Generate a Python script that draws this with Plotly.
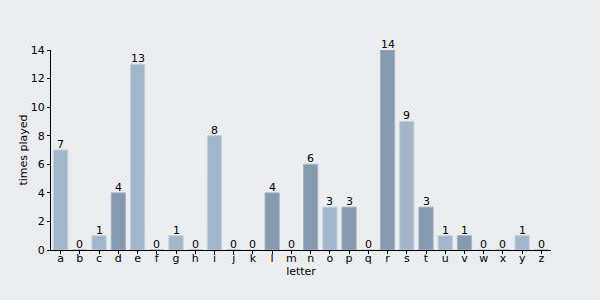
import base64
import plotly.graph_objects as go

letters = list("abcdefghijklmnopqrstuvwxyz")
times_played = [7, 0, 1, 4, 13, 0, 1, 0, 8, 0, 0, 4, 0, 6, 3, 3, 0, 14, 9, 3, 1, 1, 0, 0, 1, 0]

light_fill, light_line = "#a3b6c9", "#c3cfdb"
dark_fill, dark_line = "#8799ae", "#a6b4c4"
fills = [light_fill if i % 2 == 0 else dark_fill for i in range(len(letters))]
lines = [light_line if i % 2 == 0 else dark_line for i in range(len(letters))]

svg = (
    '<svg xmlns="http://www.w3.org/2000/svg" width="600" height="300">'
    '<defs><pattern id="p" width="2.83" height="4" patternUnits="userSpaceOnUse" '
    'patternTransform="rotate(45)">'
    '<rect width="2.83" height="4" fill="#e4e7ea"/>'
    '<rect width="1.2" height="4" fill="#f4f5f7"/>'
    '</pattern></defs>'
    '<rect width="600" height="300" fill="url(#p)"/></svg>'
)
src = "data:image/svg+xml;base64," + base64.b64encode(svg.encode()).decode()

fig = go.Figure(
    go.Bar(
        x=letters,
        y=times_played,
        marker=dict(color=fills, line=dict(color=lines, width=1)),
        width=0.74,
        cliponaxis=False,
    )
)

for lt, v in zip(letters, times_played):
    fig.add_annotation(
        x=lt, y=v, text=str(v), showarrow=False,
        xanchor="center", yanchor="bottom", yshift=-3,
        font=dict(family="DejaVu Sans", size=11, color="#000"),
    )

L, R, T, B = 51, 49, 50, 50
pw, ph = 600 - L - R, 300 - T - B
fig.update_layout(
    width=600,
    height=300,
    margin=dict(l=L, r=R, t=T, b=B),
    paper_bgcolor="#e8ebee",
    plot_bgcolor="rgba(0,0,0,0)",
    font=dict(family="DejaVu Sans", size=11, color="#000"),
    showlegend=False,
    images=[dict(
        source=src, xref="paper", yref="paper",
        x=-L / pw, y=1 + T / ph, sizex=600 / pw, sizey=300 / ph,
        xanchor="left", yanchor="top", sizing="stretch", layer="below",
    )],
    xaxis=dict(
        showline=True, linecolor="#000", linewidth=1,
        ticks="outside", ticklen=3, tickcolor="#000",
        ticklabelstandoff=-5, automargin=False,
        showgrid=False, tickfont=dict(size=11),
        title=dict(text="letter", standoff=0, font=dict(size=11)),
    ),
    yaxis=dict(
        range=[0, 14], dtick=2, automargin=False,
        showline=True, linecolor="#000", linewidth=1,
        ticks="outside", ticklen=3, tickcolor="#000",
        showgrid=False, zeroline=False, tickfont=dict(size=11),
        title=dict(text="times played", standoff=0, font=dict(size=11)),
    ),
)

fig.write_html("out.html")
